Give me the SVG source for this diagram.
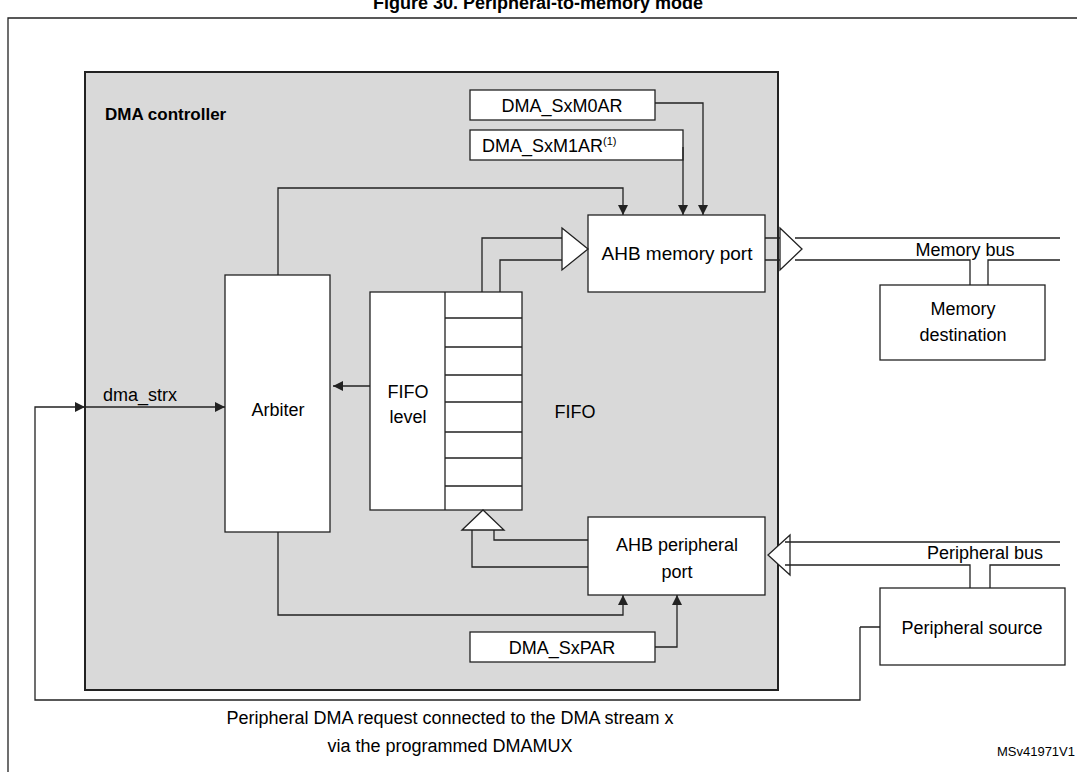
<svg xmlns="http://www.w3.org/2000/svg" width="1077" height="772" viewBox="0 0 1077 772">
<style>
text{font-family:"Liberation Sans",Arial,sans-serif;font-size:18px;fill:#000}
.b{fill:#fff;stroke:#222;stroke-width:1.3}
.l{fill:none;stroke:#222;stroke-width:1.3}
.h{fill:#fff;stroke:#222;stroke-width:1.3}
.c{text-anchor:middle}
</style>
<defs>
<marker id="a" viewBox="0 0 10 10" refX="10" refY="5" markerWidth="10" markerHeight="10" markerUnits="userSpaceOnUse" orient="auto"><path d="M0,0L10,5L0,10z" fill="#222"/></marker>
</defs>
<rect width="1077" height="772" fill="#fff"/>
<text x="538" y="9" class="c" style="font-weight:bold;font-size:18px">Figure 30. Peripheral-to-memory mode</text>
<path d="M8,772V18H1080" class="l" stroke-width="2"/>
<g id="dma"><rect x="85" y="72" width="693" height="618" fill="#d9d9d9" stroke="#222" stroke-width="2"/>
<text x="105" y="120" style="font-weight:bold;font-size:17px">DMA controller</text></g>
<g id="m0ar"><rect class="b" x="470" y="90" width="185" height="30"/><text x="562" y="112" class="c">DMA_SxM0AR</text></g>
<g id="m1ar"><rect class="b" x="470" y="130" width="213" height="30"/><text x="482" y="152">DMA_SxM1AR<tspan dy="-7" font-size="11">(1)</tspan></text></g>
<g id="memport"><rect class="b" x="588" y="215" width="177" height="77"/><text x="677" y="260" class="c" style="font-size:19px">AHB memory port</text></g>
<g id="memdest"><rect class="b" x="880" y="285" width="165" height="75"/><text x="963" y="315" class="c">Memory</text><text x="963" y="341" class="c">destination</text></g>
<g id="arbiter"><rect class="b" x="225" y="275" width="105" height="257"/><text x="278" y="416" class="c">Arbiter</text></g>
<g id="fifo"><rect class="b" x="370" y="292" width="152" height="218"/><path class="l" d="M445,292V510M445,318H522M445,347H522M445,375H522M445,402H522M445,432H522M445,458H522M445,486H522"/>
<text x="408" y="398" class="c">FIFO</text><text x="408" y="423" class="c">level</text><text x="575" y="418" class="c">FIFO</text></g>
<g id="perport"><rect class="b" x="588" y="517" width="177" height="78"/><text x="677" y="551" class="c">AHB peripheral</text><text x="677" y="578" class="c">port</text></g>
<g id="sxpar"><rect class="b" x="470" y="632" width="185" height="30"/><text x="562" y="654" class="c">DMA_SxPAR</text></g>
<g id="persrc"><rect class="b" x="880" y="588" width="185" height="77"/><text x="972" y="634" class="c">Peripheral source</text></g>
<g id="connectors">
<path class="l" d="M655,103H703V215" marker-end="url(#a)"/>
<path class="l" d="M683,147V215" marker-end="url(#a)"/>
<path class="l" d="M278,275V188H623V215" marker-end="url(#a)"/>
<path class="l" d="M482,292V238H562M500,292V260H562"/>
<path class="h" d="M562,228L588,249L562,270z"/>
<path class="l" d="M765,238H780M765,260H780"/>
<path class="h" d="M780,228L802,249L780,270z"/>
<path class="l" d="M795,238H1060M795,260H970V285M988,285V260H1060"/>
<text x="965" y="256" class="c">Memory bus</text>
<path class="l" d="M370,386H333" marker-end="url(#a)"/>
<path class="l" d="M85,407H225" marker-end="url(#a)"/>
<text x="140" y="401" class="c">dma_strx</text>
<path class="l" d="M860,627H880M860,627V700H35V407H85" marker-end="url(#a)"/>
<path class="l" d="M278,532V615H623V595" marker-end="url(#a)"/>
<path class="l" d="M655,647H677V595" marker-end="url(#a)"/>
<path class="l" d="M588,540H494V530M588,567H472V530"/>
<path class="h" d="M462,530L483,510L504,530z"/>
<path class="h" d="M790,535L768,555L790,575z"/>
<path class="l" d="M785,542H1060M785,565H970V588M990,588V565H1060"/>
<text x="985" y="559" class="c">Peripheral bus</text>
</g>
<text x="450" y="724" class="c">Peripheral DMA request connected to the DMA stream x</text>
<text x="450" y="752" class="c">via the programmed DMAMUX</text>
<text x="1075" y="756" text-anchor="end" style="font-size:13px">MSv41971V1</text>
</svg>
